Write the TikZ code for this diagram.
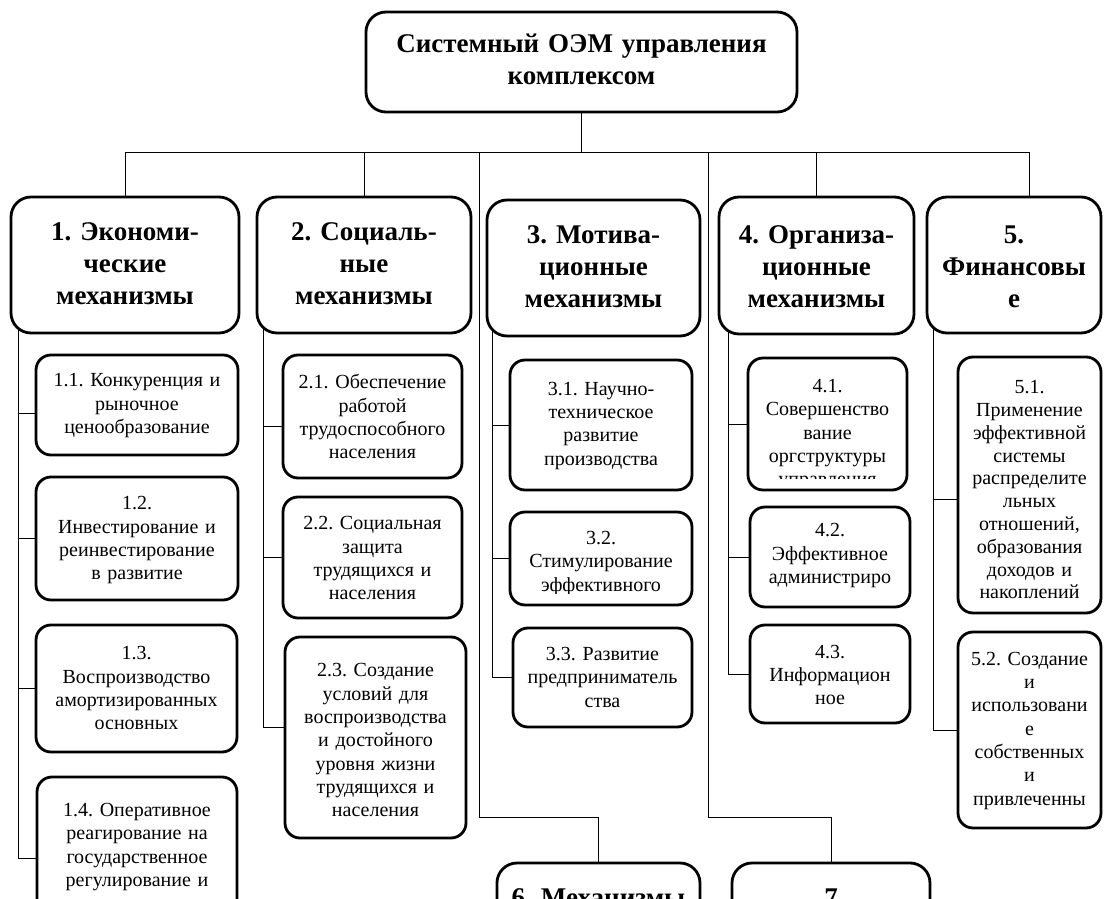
\documentclass[tikz,border=0pt]{standalone}
\usepackage{fontspec}
\setmainfont{Liberation Serif}
\frenchspacing
\usetikzlibrary{fit,backgrounds}
\tikzstyle{line} = [line width=2.6pt]
\tikzstyle{head} = [draw, fill=white, line width=2.8pt, rounded corners=20pt, inner sep=0pt]
\tikzstyle{sub} = [draw, fill=white, line width=2.8pt, rounded corners=15pt, inner sep=0pt]
\newcommand{\headfont}{\fontsize{27}{32}\selectfont\bfseries}
\newcommand{\subfont}{\fontsize{20}{23.3}\selectfont}
% text hangs from the top of the box, the rest is cut off
\newcommand{\boxtext}[3]{%
  \clip ([yshift=12pt]path picture bounding box.south west) rectangle (path picture bounding box.north east);
  \node[anchor=north, inner sep=0pt, align=center, font=#2] at ([yshift=#1]path picture bounding box.north) {#3};}

\begin{document}
\begin{tikzpicture}[x=1pt, y=-1pt]
        \useasboundingbox (0,0) rectangle (1104,899);
        \clip (0,0) rectangle (1104,899);

        % Top box
        \node[head, fit={(366,12) (797,112)}, path picture={\boxtext{-5pt}{\headfont}{Системный ОЭМ управления\\комплексом}}] (top) {};

        % Mechanism groups
        \node[head, fit={(11,197) (239,333)}, path picture={\boxtext{-6pt}{\headfont}{1. Экономи-\\ческие\\механизмы}}] (b1) {};
        \node[head, fit={(257,197) (471,333)}, path picture={\boxtext{-6pt}{\headfont}{2. Социаль-\\ные\\механизмы}}] (b2) {};
        \node[head, fit={(487,200) (700,336)}, path picture={\boxtext{-6pt}{\headfont}{3. Мотива-\\ционные\\механизмы}}] (b3) {};
        \node[head, fit={(719,197) (914,334)}, path picture={\boxtext{-9pt}{\headfont}{4. Организа-\\ционные\\механизмы}}] (b4) {};
        \node[head, fit={(927,197) (1101,333)}, path picture={\boxtext{-9pt}{\headfont}{5.\\Финансовы\\е}}] (b5) {};
        \node[head, fit={(497,863) (700,960)}, path picture={\boxtext{6pt}{\headfont}{6. Механизмы}}] (b6) {};
        \node[head, fit={(732,863) (930,960)}, path picture={\boxtext{6pt}{\headfont}{7}}] (b7) {};

        % Column 1
        \node[sub, fit={(36,355) (238,455)}, path picture={\boxtext{-6pt}{\subfont}{1.1. Конкуренция и\\рыночное\\ценообразование}}] (s11) {};
        \node[sub, fit={(36,477) (238,600)}, path picture={\boxtext{-7pt}{\subfont}{1.2.\\Инвестирование и\\реинвестирование\\в развитие}}] (s12) {};
        \node[sub, fit={(36,625) (237,752)}, path picture={\boxtext{-5pt}{\subfont}{1.3.\\Воспроизводство\\амортизированных\\основных}}] (s13) {};
        \node[sub, fit={(37,777) (237,939)}, path picture={\boxtext{-6pt}{\subfont}{1.4. Оперативное\\реагирование на\\государственное\\регулирование и\\государственную}}] (s14) {};

        % Column 2
        \node[sub, fit={(283,355) (462,478)}, path picture={\boxtext{-6pt}{\subfont}{2.1. Обеспечение\\работой\\трудоспособного\\населения}}] (s21) {};
        \node[sub, fit={(283,497) (462,618)}, path picture={\boxtext{-6pt}{\subfont}{2.2. Социальная\\защита\\трудящихся и\\населения}}] (s22) {};
        \node[sub, fit={(285,637) (466,838)}, path picture={\boxtext{-8pt}{\subfont}{2.3. Создание\\условий для\\воспроизводства\\и достойного\\уровня жизни\\трудящихся и\\населения}}] (s23) {};

        % Column 3
        \node[sub, fit={(510,360) (692,490)}, path picture={\boxtext{-6pt}{\subfont}{3.1. Научно-\\техническое\\развитие\\производства}}] (s31) {};
        \node[sub, fit={(510,512) (692,605)}, path picture={\boxtext{-10pt}{\subfont}{3.2.\\Стимулирование\\эффективного}}] (s32) {};
        \node[sub, fit={(513,628) (692,727)}, path picture={\boxtext{-5pt}{\subfont}{3.3. Развитие\\предприниматель\\ства}}] (s33) {};

        % Column 4
        \node[sub, fit={(748,358) (907,490)}, path picture={\boxtext{-16pt}{\subfont}{4.1.\\Совершенство\\вание\\оргструктуры\\управления}}] (s41) {};
        \node[sub, fit={(750,507) (910,607)}, path picture={\boxtext{-4pt}{\subfont}{4.2.\\Эффективное\\администриро}}] (s42) {};
        \node[sub, fit={(750,625) (910,723)}, path picture={\boxtext{-6pt}{\subfont}{4.3.\\Информацион\\ное}}] (s43) {};

        % Column 5
        \node[sub, fit={(958,357) (1101,613)}, path picture={\boxtext{-10pt}{\fontsize{20}{22.8}\selectfont}{5.1.\\Применение\\эффективной\\системы\\распределите\\льных\\отношений,\\образования\\доходов и\\накоплений}}] (s51) {};
        \node[sub, fit={(958,632) (1101,828)}, path picture={\boxtext{-6pt}{\subfont}{5.2. Создание\\и\\использовани\\е\\собственных\\и\\привлеченны}}] (s52) {};

        % Connectors
        \begin{scope}[on background layer, line]
        \coordinate (busR) at (1029,152);
        \coordinate (sp1) at (18,320);
        \coordinate (sp2) at (263,320);
        \coordinate (sp3) at (492,320);
        \coordinate (sp4) at (728,320);
        \coordinate (sp5) at (933,320);

        \draw (top.south) -- (top.south |- busR);
        \draw (b1.north |- busR) -- (busR);
        \draw (b1.north) -- (b1.north |- busR);
        \draw (b2.north) -- (b2.north |- busR);
        \draw (b4.north) -- (b4.north |- busR);
        \draw (busR) -- (busR |- b5.north);
        \draw (479,152) -- (479,817) -| (b6.north);
        \draw (708,152) -- (708,817) -| (b7.north);

        \draw ([yshift=-8pt]s11.west) -| (sp1);
        \draw (s12.west) -| (sp1);
        \draw (s13.west) -| (sp1);
        \draw (s14.west) -| (sp1);

        \draw ([yshift=-10pt]s21.west) -| (sp2);
        \draw (s22.west) -| (sp2);
        \draw ([yshift=10pt]s23.west) -| (sp2);

        \draw (s31.west) -| (sp3);
        \draw (s32.west) -| (sp3);
        \draw (s33.west) -| (sp3);

        \draw (s41.west) -| (sp4);
        \draw (s42.west) -| (sp4);
        \draw (s43.west) -| (sp4);

        \draw ([yshift=-14pt]s51.west) -| (sp5);
        \draw (s52.west) -| (sp5);
        \end{scope}
\end{tikzpicture}
\end{document}
